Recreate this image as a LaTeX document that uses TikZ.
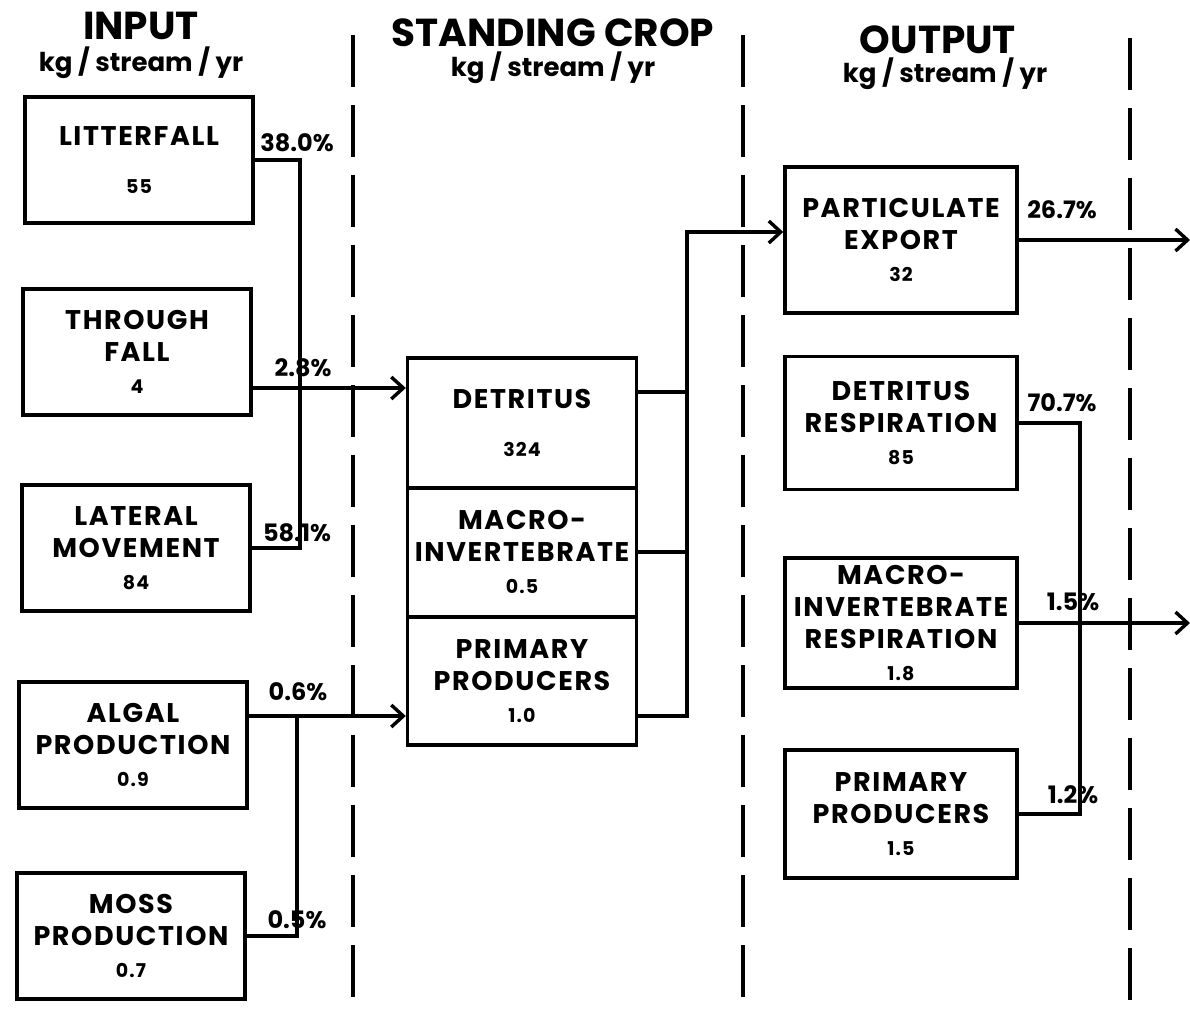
\documentclass[tikz,border=0pt]{standalone}
\usepackage{fontspec}
\setmainfont{Poppins}
\usetikzlibrary{arrows.meta,positioning}

\newcommand{\val}[1]{{\fontsize{9.5}{10}\selectfont #1}}

\begin{document}
\begin{tikzpicture}[x=0.5pt,y=-0.5pt,
  >={Straight Barb[length=6pt,width=11pt]},
  box/.style={draw, line width=1.7pt, align=center, inner sep=0pt,
    font=\bfseries\fontsize{13.5}{16}\selectfont\addfontfeature{LetterSpace=6}},
  inbox/.style={box, minimum width=114pt, minimum height=63pt},
  cropbox/.style={box, minimum width=114.5pt, minimum height=64.5pt},
  outbox/.style={box, minimum width=116pt, minimum height=65pt},
  pct/.style={font=\bfseries\fontsize{12}{14}\selectfont, inner sep=1pt},
  flow/.style={line width=1.7pt},
  divider/.style={line width=2pt, dash pattern=on 26pt off 9pt},
  head/.style={font=\bfseries\fontsize{19.5}{22}\selectfont},
  unit/.style={font=\bfseries\fontsize{13}{14}\selectfont}]

\useasboundingbox (0,0) rectangle (1190,1013);

% Column dividers
\foreach \x/\top in {353/35, 743/35, 1130/38} {
    \draw[divider] (\x,\top) -- (\x,1013);
}

% Headings
\node[head] (hin) at (141,26) {INPUT};
\node[unit] (uin) at (141,63) {kg / stream / yr};
\node[head] (hcrop) at (553,33) {STANDING CROP};
\node[unit] (ucrop) at (553,68) {kg / stream / yr};
\node[head] (hout) at (938,40) {OUTPUT};
\node[unit] (uout) at (945,74) {kg / stream / yr};

% Input boxes
\node[inbox] (litter) at (139,160) {LITTERFALL\\[8pt]\val{55}};
\node[inbox] (through) at (137,352) {THROUGH\\FALL\\\val{4}};
\node[inbox] (lateral) at (136,548) {LATERAL\\MOVEMENT\\\val{84}};
\node[inbox] (algal) at (133,745) {ALGAL\\PRODUCTION\\\val{0.9}};
\node[inbox] (moss) at (131,936) {MOSS\\PRODUCTION\\\val{0.7}};

% Standing crop
\node[cropbox, minimum height=65pt] (detritus) at (522,423) {DETRITUS\\[8pt]\val{324}};
\node[cropbox] (macro) at (522,552) {MACRO-\\INVERTEBRATE\\\val{0.5}};
\node[cropbox, minimum height=64pt] (primary) at (522,681) {PRIMARY\\PRODUCERS\\\val{1.0}};

% Output boxes
\node[outbox, minimum height=73pt] (partic) at (901,240) {PARTICULATE\\EXPORT\\\val{32}};
\node[outbox, minimum height=66.5pt] (detresp) at (901,423) {DETRITUS\\RESPIRATION\\\val{85}};
\node[outbox] (macroresp) at (901,623) {MACRO-\\INVERTEBRATE\\RESPIRATION\\\val{1.8}};
\node[outbox, minimum height=64pt] (primout) at (901,814) {PRIMARY\\PRODUCERS\\\val{1.5}};

% Junction points
\coordinate (jin) at (300,0);
\coordinate (jalg) at (297,0);
\coordinate (jcrop) at (687,0);
\coordinate (jout) at (1080,0);
\coordinate (tf) at ([yshift=-18pt]through.east);
\coordinate (al) at ([yshift=14.5pt]algal.east);
\coordinate (de) at ([yshift=15.5pt]detritus.east);
\coordinate (pp) at ([yshift=-17.5pt]primary.east);
\coordinate (pe) at ([yshift=4pt]partic.west);
\coordinate (exp1) at (1190,0);

% Input flows
\draw[flow] (litter.east) -- (litter.east -| jin) -- (lateral.east -| jin) -- (lateral.east);
\draw[flow,->] (tf) -- (tf -| detritus.west);
\draw[flow,->] (al) -- (al -| primary.west);
\draw[flow] (moss.east) -- (moss.east -| jalg) -- (al -| jalg);

% Standing crop to output
\draw[flow] (de) -- (de -| jcrop);
\draw[flow] (macro.east) -- (macro.east -| jcrop);
\draw[flow,->] (pp) -- (pp -| jcrop) -- (pe -| jcrop) -- (pe);

% Output flows
\draw[flow,->] (partic.east) -- (partic.east -| exp1);
\draw[flow,->] (macroresp.east) -- (macroresp.east -| exp1);
\draw[flow] (detresp.east) -- (detresp.east -| jout) -- (primout.east -| jout) -- (primout.east);

% Percentages
\node[pct] (p1) at (297,143) {38.0\%};
\node[pct] (p2) at (303,368) {2.8\%};
\node[pct] (p3) at (297,533) {58.1\%};
\node[pct] (p4) at (298,692) {0.6\%};
\node[pct] (p5) at (297,920) {0.5\%};
\node[pct] (p6) at (1062,210) {26.7\%};
\node[pct] (p7) at (1062,403) {70.7\%};
\node[pct] (p8) at (1073,602) {1.5\%};
\node[pct] (p9) at (1073,795) {1.2\%};

\end{tikzpicture}
\end{document}
